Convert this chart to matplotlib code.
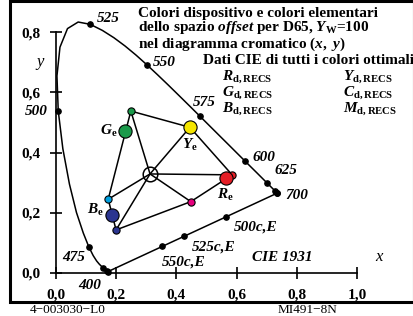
import numpy as np
import matplotlib
matplotlib.use('Agg')
import matplotlib.pyplot as plt
from matplotlib.patches import Rectangle

plt.rcParams['font.family'] = 'Liberation Serif'
plt.rcParams['mathtext.fontset'] = 'custom'
plt.rcParams['mathtext.rm'] = 'Liberation Serif:bold'
plt.rcParams['mathtext.bf'] = 'Liberation Serif:bold'
plt.rcParams['mathtext.it'] = 'Liberation Serif:bold:italic'

# CIE 1931 spectral locus, 380..700 nm in 5 nm steps
wl = np.arange(380, 705, 5)
locus_x = [0.1741, 0.1740, 0.1738, 0.1736, 0.1733, 0.1730, 0.1726, 0.1721, 0.1714, 0.1703,
           0.1689, 0.1669, 0.1644, 0.1611, 0.1566, 0.1510, 0.1440, 0.1355, 0.1241, 0.1096,
           0.0913, 0.0687, 0.0454, 0.0235, 0.0082, 0.0039, 0.0139, 0.0389, 0.0743, 0.1142,
           0.1547, 0.1929, 0.2296, 0.2658, 0.3016, 0.3373, 0.3731, 0.4087, 0.4441, 0.4788,
           0.5125, 0.5448, 0.5752, 0.6029, 0.6270, 0.6482, 0.6658, 0.6801, 0.6915, 0.7006,
           0.7079, 0.7140, 0.7190, 0.7230, 0.7260, 0.7283, 0.7300, 0.7311, 0.7320, 0.7327,
           0.7334, 0.7340, 0.7344, 0.7346, 0.7347]
locus_y = [0.0050, 0.0050, 0.0049, 0.0049, 0.0048, 0.0048, 0.0048, 0.0048, 0.0051, 0.0058,
           0.0069, 0.0086, 0.0109, 0.0138, 0.0177, 0.0227, 0.0297, 0.0399, 0.0578, 0.0868,
           0.1327, 0.2007, 0.2950, 0.4127, 0.5384, 0.6548, 0.7502, 0.8120, 0.8338, 0.8262,
           0.8059, 0.7816, 0.7543, 0.7243, 0.6923, 0.6589, 0.6245, 0.5896, 0.5547, 0.5202,
           0.4866, 0.4544, 0.4242, 0.3965, 0.3725, 0.3514, 0.3340, 0.3197, 0.3083, 0.2993,
           0.2920, 0.2859, 0.2809, 0.2770, 0.2740, 0.2717, 0.2700, 0.2689, 0.2680, 0.2673,
           0.2666, 0.2660, 0.2656, 0.2654, 0.2653]

# complementary wavelength marks on the purple line
compl_x = [0.565, 0.425, 0.352]
compl_y = [0.187, 0.122, 0.088]

# device colours: d = RECS data points, e = elementary colours
d_names = ['R', 'Y', 'G', 'C', 'B', 'M']
d_x = [0.585, 0.445, 0.249, 0.174, 0.200, 0.448]
d_y = [0.326, 0.484, 0.538, 0.245, 0.143, 0.237]
d_col = ['#e41e26', '#f5e600', '#1a9a4a', '#00a0e0', '#2b3590', '#e6007e']

e_names = ['R', 'Y', 'G', 'B']
e_x = [0.564, 0.445, 0.229, 0.185]
e_y = [0.315, 0.484, 0.473, 0.193]
e_col = ['#e41e26', '#f5e600', '#1a9a4a', '#2b3590']

white_x, white_y = 0.3127, 0.3290

fig = plt.figure(figsize=(4.13, 3.16), dpi=100)
ax = fig.add_axes([0, 0, 1, 1])
ax.set_xlim(-0.185, 1.185)
ax.set_ylim(-0.143, 0.907)
ax.patch.set_alpha(0)

# locus + purple line
lx = list(locus_x) + [locus_x[0]]
ly = list(locus_y) + [locus_y[0]]
ax.plot(lx, ly, color='black', lw=1.1, zorder=2)
marks = [i for i, w in enumerate(wl) if w >= 400 and w % 25 == 0]
ax.plot([locus_x[i] for i in marks], [locus_y[i] for i in marks], 'o',
        color='black', ms=3.8, zorder=3)
ax.plot(compl_x, compl_y, 'o', color='black', ms=3.8, zorder=3)

# hexagon and spokes
hx = d_x + [d_x[0]]
hy = d_y + [d_y[0]]
ax.plot(hx, hy, color='black', lw=1.1, zorder=4)
for x, y in zip(d_x, d_y):
    ax.plot([white_x, x], [white_y, y], color='black', lw=1.1, zorder=4)

for x, y, c in zip(d_x, d_y, d_col):
    ax.plot(x, y, 'o', ms=5.2, mfc=c, mec='black', mew=0.8, zorder=5)
for x, y, c in zip(e_x, e_y, e_col):
    ax.plot(x, y, 'o', ms=9.5, mfc=c, mec='black', mew=0.8, zorder=6)
ax.plot(white_x, white_y, 'o', ms=10.5, mfc='none', mec='black', mew=1.1, zorder=6)

# axes
for s in ['top', 'right']:
    ax.spines[s].set_visible(False)
ax.spines['left'].set_position(('data', 0))
ax.spines['bottom'].set_position(('data', 0))
ax.spines['left'].set_bounds(0, 0.8)
ax.spines['bottom'].set_bounds(0, 1.0)
ax.spines['left'].set_linewidth(1.2)
ax.spines['bottom'].set_linewidth(1.2)
xt = [0, 0.2, 0.4, 0.6, 0.8, 1.0]
yt = [0, 0.2, 0.4, 0.6, 0.8]
ax.set_xticks(xt)
ax.set_xticklabels([f'{v:.1f}'.replace('.', ',') for v in xt])
ax.set_yticks(yt)
ax.set_yticklabels([f'{v:.1f}'.replace('.', ',') for v in yt])
ax.tick_params(direction='inout', length=8, width=1.2, labelsize=11)
ax.tick_params(axis='x', pad=7)
ax.tick_params(axis='y', pad=7)
for lab in ax.get_xticklabels() + ax.get_yticklabels():
    lab.set_fontweight('bold')

lbl = dict(fontsize=11, fontweight='bold', fontstyle='italic', va='center', zorder=7)
ax.text(0.137, 0.844, '525', **lbl)
ax.text(0.322, 0.698, '550', **lbl)
ax.text(0.455, 0.565, '575', **lbl)
ax.text(0.654, 0.385, '600', **lbl)
ax.text(0.724, 0.339, '625', **lbl)
ax.text(0.760, 0.257, '700', **lbl)
ax.text(-0.026, 0.538, '500', ha='right', **lbl)
ax.text(0.020, 0.053, '475', **lbl)
ax.text(0.074, -0.040, '400', **lbl)
ax.text(0.589, 0.153, '500c,E', **lbl)
ax.text(0.452, 0.086, '525c,E', **lbl)
ax.text(0.352, 0.037, '550c,E', **lbl)
ax.text(0.651, 0.053, 'CIE 1931', **lbl)
ax.text(1.06, 0.053, 'x', fontsize=12, fontstyle='italic', va='center')
ax.text(-0.065, 0.70, 'y', fontsize=12, fontstyle='italic', va='center')

el = dict(fontsize=11, va='center', zorder=7)
ax.text(0.205, 0.473, r'$G_{\mathrm{e}}$', ha='right', **el)
ax.text(0.445, 0.425, r'$Y_{\mathrm{e}}$', ha='center', **el)
ax.text(0.564, 0.260, r'$R_{\mathrm{e}}$', ha='center', **el)
ax.text(0.158, 0.208, r'$B_{\mathrm{e}}$', ha='right', **el)

# title block, placed in pixel positions
def ftext(px, py, s, **kw):
    fig.text(px / 413, 1 - py / 316, s, fontsize=11, fontweight='bold', va='center', **kw)

ftext(138, 13, 'Colori dispositivo e colori elementari')
ftext(138, 28, r'dello spazio $\mathit{offset}$ per D65, $Y_{\mathrm{W}}$=100')
ftext(138, 44, r'nel diagramma cromatico $(x,\ y)$')
ftext(203, 60, 'Dati CIE di tutti i colori ottimali')
for i, n in enumerate(['R', 'G', 'B']):
    ftext(222, 77 + 16 * i, r'$%s_{\mathrm{d,RECS}}$' % n)
for i, n in enumerate(['Y', 'C', 'M']):
    ftext(343, 77 + 16 * i, r'$%s_{\mathrm{d,RECS}}$' % n)

# frame and footer
fig.patches.append(Rectangle((10 / 413, 1 - 302 / 316), 404 / 413, 301 / 316,
                             transform=fig.transFigure, fill=False, lw=2.2,
                             edgecolor='black'))
fig.text(30 / 413, 1 - 310 / 316, '4\u2212003030\u2212L0', fontsize=9.5, va='center')
fig.text(278 / 413, 1 - 310 / 316, 'MI491\u22128N', fontsize=9.5, va='center')

fig.savefig('out.png', dpi=100)
